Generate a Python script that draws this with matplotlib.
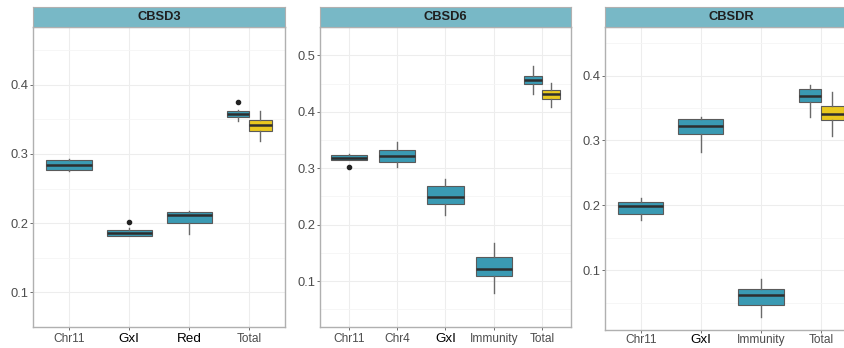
import matplotlib
matplotlib.use("Agg")
import matplotlib.pyplot as plt

plt.rcParams["font.family"] = ["Liberation Sans", "DejaVu Sans"]

W, H = 845, 348

# ---- data ----
titles = ["CBSD3", "CBSD6", "CBSDR"]

cats_d3 = ["Chr11", "GxI", "Red", "Total"]
q1_d3 = [0.2766, 0.1822, 0.2000, 0.3534]
med_d3 = [0.2845, 0.1864, 0.2117, 0.3572]
q3_d3 = [0.2906, 0.1906, 0.2164, 0.3614]
lo_d3 = [0.2750, 0.1810, 0.1846, 0.3474]
hi_d3 = [0.2923, 0.1925, 0.2182, 0.3641]
out_d3 = [[], [0.2014], [], [0.3754]]

cats_d6 = ["Chr11", "Chr4", "GxI", "Immunity", "Total"]
q1_d6 = [0.3147, 0.3110, 0.2375, 0.1086, 0.4490]
med_d6 = [0.3184, 0.3217, 0.2486, 0.1217, 0.4565]
q3_d6 = [0.3228, 0.3326, 0.2685, 0.1433, 0.4636]
lo_d6 = [0.3140, 0.3030, 0.2168, 0.0793, 0.4310]
hi_d6 = [0.3260, 0.3470, 0.2806, 0.1667, 0.4815]
out_d6 = [[0.3026], [], [], [], []]

cats_dr = ["Chr11", "GxI", "Immunity", "Total"]
q1_dr = [0.1870, 0.3092, 0.0464, 0.3600]
med_dr = [0.1985, 0.3221, 0.0620, 0.3692]
q3_dr = [0.2057, 0.3330, 0.0714, 0.3795]
lo_dr = [0.1781, 0.2815, 0.0281, 0.3369]
hi_dr = [0.2109, 0.3363, 0.0860, 0.3857]
out_dr = [[], [], [], []]

# second ("Total", yellow) box per panel: q1, med, q3, lo, hi
total2_d3 = [0.3325, 0.3413, 0.3488, 0.3185, 0.3627]
total2_d6 = [0.4224, 0.4310, 0.4387, 0.4087, 0.4506]
total2_dr = [0.3323, 0.3406, 0.3538, 0.3068, 0.3754]

ylims = [(0.0636, 0.4835), (0.018, 0.5055), (0.0077, 0.4745)]
yticks = [[0.1, 0.2, 0.3, 0.4], [0.1, 0.2, 0.3, 0.4, 0.5], [0.1, 0.2, 0.3, 0.4]]

# panel pixel boxes: left, right, top, bottom
boxes_px = [(33, 285, 27, 327), (320, 571, 27.3, 327.3), (605, 857, 27.3, 330)]
xpads = [2.2, 2.2, 0.6]

BLUE = "#3A9AB3"
YELLOW = "#E9C81E"
STRIP = "#78B8C6"
BORDER = "#B0B0B0"

panels = [
    (cats_d3, q1_d3, med_d3, q3_d3, lo_d3, hi_d3, out_d3, total2_d3),
    (cats_d6, q1_d6, med_d6, q3_d6, lo_d6, hi_d6, out_d6, total2_d6),
    (cats_dr, q1_dr, med_dr, q3_dr, lo_dr, hi_dr, out_dr, total2_dr),
]

fig = plt.figure(figsize=(W / 100, H / 100), dpi=100)

for p, (cats, q1, med, q3, lo, hi, outs, t2) in enumerate(panels):
    l, r, t, b = boxes_px[p]
    ax = fig.add_axes([l / W, (H - b) / H, (r - l) / W, (b - t) / H])
    n = len(cats)
    pos = list(range(1, n + 1))

    stats = []
    positions = []
    widths = []
    colors = []
    for i in range(n):
        s = dict(q1=q1[i], med=med[i], q3=q3[i], whislo=lo[i], whishi=hi[i], fliers=outs[i])
        stats.append(s)
        if cats[i] == "Total":
            positions.append(pos[i] - 0.1875)
            widths.append(0.375)
        else:
            positions.append(pos[i])
            widths.append(0.75)
        colors.append(BLUE)
    # yellow Total box
    stats.append(dict(q1=t2[0], med=t2[1], q3=t2[2], whislo=t2[3], whishi=t2[4], fliers=[]))
    positions.append(pos[-1] + 0.1875)
    widths.append(0.375)
    colors.append(YELLOW)

    bp = ax.bxp(stats, positions=positions, widths=widths, patch_artist=True,
                showcaps=False, manage_ticks=False,
                boxprops=dict(edgecolor="#5a5a5a", linewidth=0.8),
                whiskerprops=dict(color="#6a6a6a", linewidth=1.0),
                medianprops=dict(color="#2e2e2e", linewidth=1.8),
                flierprops=dict(marker="o", markersize=3.0, markerfacecolor="#222222",
                                markeredgecolor="#222222"))
    for patch, c in zip(bp["boxes"], colors):
        patch.set_facecolor(c)
    for art in bp["boxes"] + bp["medians"] + bp["whiskers"]:
        art.set_zorder(3)

    ax.set_xlim(0.4, n + 0.6)
    ax.set_ylim(*ylims[p])
    ax.set_yticks(yticks[p])
    ax.set_yticklabels([f"{v:.1f}" for v in yticks[p]])
    ax.set_yticks([v + 0.05 for v in [0.0] + yticks[p]], minor=True)
    ax.set_xticks(pos)
    ax.set_xticklabels(cats)

    ax.grid(True, which="major", color="#EDEDED", linewidth=0.8, zorder=0)
    ax.grid(True, which="minor", axis="y", color="#F5F5F5", linewidth=0.6, zorder=0)
    ax.set_axisbelow(True)
    ax.tick_params(axis="both", which="major", length=2.2, width=0.6, color="#555555",
                   labelcolor="#4D4D4D", pad=1.2)
    ax.tick_params(axis="y", labelsize=9.3)
    ax.tick_params(axis="x", labelsize=8.6, pad=xpads[p])
    ax.tick_params(which="minor", length=0)
    for lab in ax.get_xticklabels():
        if lab.get_text() in ("GxI", "Red"):
            lab.set_color("black")
            lab.set_fontsize(9.7)
    for sp in ax.spines.values():
        sp.set_color(BORDER)
        sp.set_linewidth(1.0)

    # facet strip
    st = fig.add_axes([l / W, (H - t) / H, (r - l) / W, 20 / H])
    st.set_facecolor(STRIP)
    st.set_xticks([])
    st.set_yticks([])
    for sp in st.spines.values():
        sp.set_color(BORDER)
        sp.set_linewidth(0.8)
    st.text(0.5, 0.5, titles[p], transform=st.transAxes, ha="center", va="center",
            fontsize=9.3, fontweight="bold", color="#1F1F1F")

fig.savefig("out.png", dpi=100)
